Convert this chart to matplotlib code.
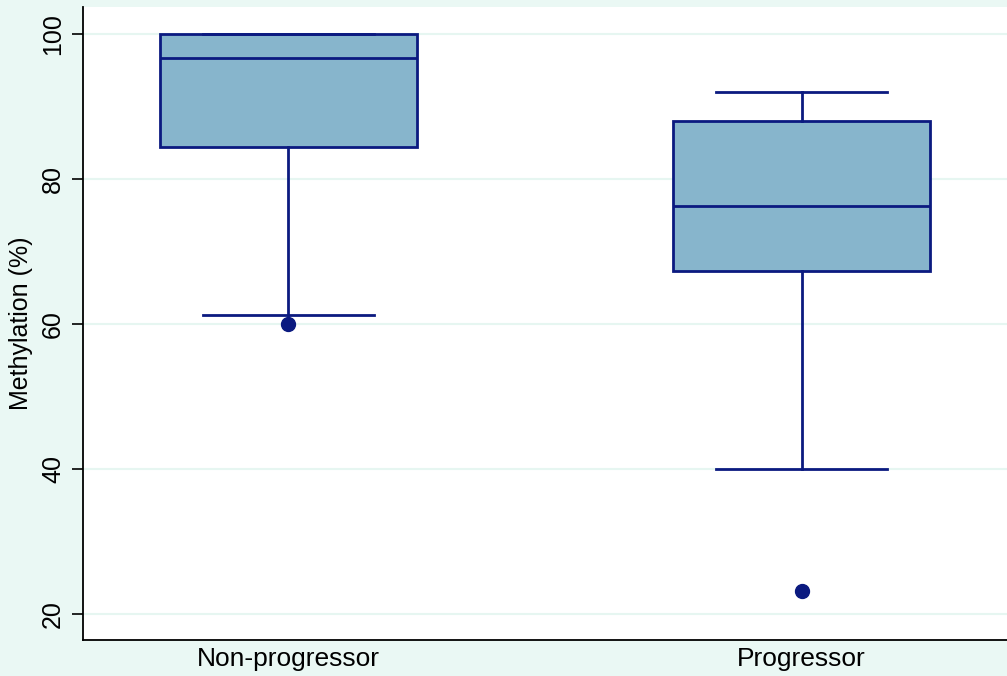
import matplotlib
matplotlib.use("Agg")
import matplotlib.pyplot as plt

# box summary values
groups = ["Non-progressor", "Progressor"]
q1 = [84.4, 67.3]
medians = [96.6, 76.3]
q3 = [100.0, 88.0]
whislo = [61.2, 40.0]
whishi = [100.0, 92.0]
outliers = [[60.0], [23.2]]
yticks = [20, 40, 60, 80, 100]

bg = "#eaf8f4"
navy = "#0b1a80"
fill = "#87b5cc"

plt.rcParams["font.family"] = ["Liberation Sans", "DejaVu Sans"]

fig = plt.figure(figsize=(10.07, 6.76), dpi=100, facecolor=bg)
ax = fig.add_axes([83 / 1007, 36 / 676, 1 - 83 / 1007, (640 - 7) / 676])
ax.set_facecolor("white")

stats = []
for i, g in enumerate(groups):
    stats.append({"label": g, "q1": q1[i], "med": medians[i], "q3": q3[i],
                  "whislo": whislo[i], "whishi": whishi[i], "fliers": outliers[i]})

ax.bxp(stats, positions=[0, 1], widths=0.5, patch_artist=True,
       boxprops=dict(facecolor=fill, edgecolor=navy, linewidth=2),
       medianprops=dict(color=navy, linewidth=2),
       whiskerprops=dict(color=navy, linewidth=2),
       capprops=dict(color=navy, linewidth=2),
       capwidths=1 / 3,
       flierprops=dict(marker="o", markerfacecolor=navy, markeredgecolor=navy,
                       markersize=10),
       zorder=3)

ax.set_xlim(-0.4, 1.4)
ax.set_ylim(16.4, 103.7)
ax.set_yticks(yticks)
ax.set_yticklabels([str(t) for t in yticks], rotation=90, va="center", fontsize=18)
ax.set_xticks([0, 1])
ax.set_xticklabels(groups, fontsize=19)
ax.tick_params(axis="x", length=0, pad=5)
ax.tick_params(axis="y", length=8, width=1.2, pad=5)
ax.yaxis.grid(True, color="#e6f6f1", linewidth=1.5, zorder=0)
ax.set_ylabel("Methylation (%)", fontsize=18, labelpad=6)

for s in ["top", "right"]:
    ax.spines[s].set_visible(False)
for s in ["left", "bottom"]:
    ax.spines[s].set_linewidth(1.3)
    ax.spines[s].set_color("black")

fig.savefig("out.png", dpi=100, facecolor=bg)
